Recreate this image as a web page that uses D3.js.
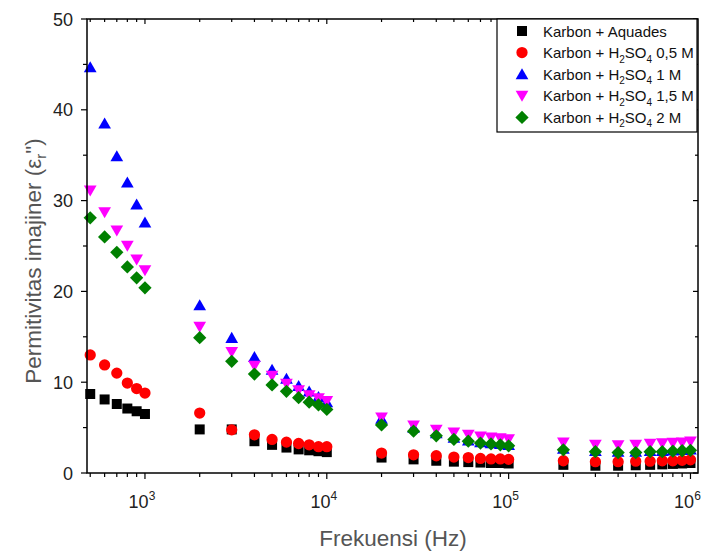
<!DOCTYPE html>
<html>
<head>
<meta charset="utf-8">
<script src="https://cdn.jsdelivr.net/npm/d3@7"></script>
<style>
  body { margin: 0; background: #fff; }
  text { font-family: "Liberation Sans", Arial, sans-serif; }
</style>
</head>
<body>
<div id="chart"></div>
<script>
// frequencies (Hz)
const freq = [500, 600, 700, 800, 900, 1000,
  2000, 3000, 4000, 5000, 6000, 7000, 8000, 9000, 10000,
  20000, 30000, 40000, 50000, 60000, 70000, 80000, 90000, 100000,
  200000, 300000, 400000, 500000, 600000, 700000, 800000, 900000, 1000000];

const aquades = [8.7, 8.1, 7.6, 7.1, 6.8, 6.5,
  4.8, 4.8, 3.5, 3.1, 2.8, 2.6, 2.5, 2.4, 2.3,
  1.7, 1.5, 1.35, 1.25, 1.2, 1.15, 1.1, 1.1, 1.05,
  0.9, 0.8, 0.8, 0.85, 0.9, 0.95, 1.0, 1.05, 1.1];
const h2so4_05 = [13.0, 11.9, 11.0, 9.9, 9.3, 8.8,
  6.6, 4.75, 4.2, 3.7, 3.4, 3.25, 3.1, 2.9, 2.9,
  2.2, 2.0, 1.9, 1.75, 1.7, 1.6, 1.55, 1.55, 1.5,
  1.35, 1.25, 1.25, 1.3, 1.3, 1.35, 1.35, 1.4, 1.45];
const h2so4_1 = [44.7, 38.5, 34.9, 32.0, 29.6, 27.6,
  18.5, 14.9, 12.8, 11.4, 10.4, 9.6, 9.0, 8.4, 7.8,
  6.0, 5.0, 4.4, 3.9, 3.6, 3.4, 3.3, 3.2, 3.1,
  2.7, 2.45, 2.35, 2.35, 2.45, 2.45, 2.5, 2.55, 2.6];
const h2so4_15 = [31.1, 28.7, 26.7, 25.0, 23.5, 22.3,
  16.1, 13.3, 11.8, 10.7, 9.8, 9.1, 8.55, 8.2, 7.9,
  6.1, 5.2, 4.75, 4.45, 4.2, 4.0, 3.9, 3.8, 3.7,
  3.35, 3.1, 3.05, 3.1, 3.2, 3.25, 3.3, 3.35, 3.45];
const h2so4_2 = [28.1, 26.0, 24.3, 22.7, 21.5, 20.4,
  14.9, 12.3, 10.9, 9.7, 9.0, 8.3, 7.8, 7.5, 7.0,
  5.3, 4.6, 4.1, 3.7, 3.5, 3.3, 3.2, 3.1, 3.0,
  2.55, 2.35, 2.25, 2.25, 2.35, 2.35, 2.4, 2.45, 2.5];

const yTicks = [0, 10, 20, 30, 40, 50];
const xTicks = [1e3, 1e4, 1e5, 1e6];

const series = [
  {name: ['Karbon + Aquades'], values: aquades, color: '#000000', shape: 'square'},
  {name: ['Karbon + H', '2', 'SO', '4', ' 0,5 M'], values: h2so4_05, color: '#ff0000', shape: 'circle'},
  {name: ['Karbon + H', '2', 'SO', '4', ' 1 M'], values: h2so4_1, color: '#0000ff', shape: 'up'},
  {name: ['Karbon + H', '2', 'SO', '4', ' 1,5 M'], values: h2so4_15, color: '#ff00ff', shape: 'down'},
  {name: ['Karbon + H', '2', 'SO', '4', ' 2 M'], values: h2so4_2, color: '#008000', shape: 'diamond'}
];

const W = 707, H = 551;
const L = 87, R = 698, T = 19, B = 473;

const svg = d3.select('#chart').append('svg')
  .attr('width', W).attr('height', H);

const x = d3.scaleLog().domain([480, 1.1e6]).range([L, R]);
const y = d3.scaleLinear().domain([0, 50]).range([B, T]);

function symbolPath(shape) {
  if (shape === 'square') return d3.symbol(d3.symbolSquare, 100)();
  if (shape === 'circle') return d3.symbol(d3.symbolCircle, 100)();
  if (shape === 'diamond') return d3.symbol(d3.symbolSquare, 88)();
  return d3.symbol(d3.symbolTriangle, 70)();
}
function symbolTransform(shape, px, py) {
  if (shape === 'up') return `translate(${px},${py + 1.5})`;
  if (shape === 'down') return `translate(${px},${py - 1.5}) rotate(180)`;
  if (shape === 'diamond') return `translate(${px},${py}) rotate(45)`;
  return `translate(${px},${py})`;
}

// points
series.forEach(s => {
  svg.append('g').selectAll('path')
    .data(freq.map((f, i) => ({f, v: s.values[i]})))
    .join('path')
    .attr('d', symbolPath(s.shape))
    .attr('transform', d => symbolTransform(s.shape, x(d.f), y(d.v)))
    .attr('fill', s.color);
});

// frame
const axisColor = '#000';
svg.append('rect')
  .attr('x', L).attr('y', T).attr('width', R - L).attr('height', B - T)
  .attr('fill', 'none').attr('stroke', axisColor).attr('stroke-width', 1.5);

// x ticks
const xAll = x.ticks().filter(t => t >= 480 && t <= 1.1e6);
xAll.forEach(t => {
  const major = xTicks.includes(t);
  const len = major ? 6 : 4;
  svg.append('line').attr('x1', x(t)).attr('x2', x(t))
    .attr('y1', B).attr('y2', B + len).attr('stroke', axisColor).attr('stroke-width', 1.2);
  svg.append('line').attr('x1', x(t)).attr('x2', x(t))
    .attr('y1', T).attr('y2', T + len - 1).attr('stroke', axisColor).attr('stroke-width', 1.2);
});
xTicks.forEach(t => {
  const txt = svg.append('text')
    .attr('x', x(t) - 3).attr('y', 508)
    .attr('text-anchor', 'middle')
    .attr('font-size', 18).attr('fill', '#222');
  txt.append('tspan').text('10');
  txt.append('tspan').attr('font-size', 12).attr('dy', -8)
    .text(Math.round(Math.log10(t)));
});

// y ticks
d3.range(0, 51, 5).forEach(v => {
  const major = v % 10 === 0;
  const len = major ? 6 : 4;
  svg.append('line').attr('x1', L - len).attr('x2', L)
    .attr('y1', y(v)).attr('y2', y(v)).attr('stroke', axisColor).attr('stroke-width', 1.2);
  svg.append('line').attr('x1', R - len + 1).attr('x2', R)
    .attr('y1', y(v)).attr('y2', y(v)).attr('stroke', axisColor).attr('stroke-width', 1.2);
});
yTicks.forEach(v => {
  svg.append('text')
    .attr('x', 73).attr('y', y(v) + 6.5)
    .attr('text-anchor', 'end')
    .attr('font-size', 18).attr('fill', '#222')
    .text(v);
});

// axis titles
svg.append('text')
  .attr('x', 393).attr('y', 546)
  .attr('text-anchor', 'middle')
  .attr('font-size', 22.5).attr('fill', '#555')
  .text('Frekuensi (Hz)');

const yt = svg.append('text')
  .attr('transform', `translate(41,261) rotate(-90)`)
  .attr('text-anchor', 'middle')
  .attr('font-size', 22.5).attr('fill', '#555');
yt.append('tspan').text('Permitivitas imajiner (ε');
yt.append('tspan').attr('font-size', 15).attr('dy', 5).text('r');
yt.append('tspan').attr('dy', -5).text('")');

// legend
const lg = svg.append('g');
lg.append('rect')
  .attr('x', 497).attr('y', T).attr('width', 200).attr('height', 113)
  .attr('fill', '#fff').attr('stroke', '#000').attr('stroke-width', 1.2);

series.forEach((s, i) => {
  const ly = 31 + i * 21.6;
  lg.append('path')
    .attr('d', symbolPath(s.shape))
    .attr('transform', symbolTransform(s.shape, 522, ly))
    .attr('fill', s.color);
  const t = lg.append('text')
    .attr('x', 543).attr('y', ly + 5.5)
    .attr('font-size', 15).attr('fill', '#111');
  s.name.forEach((part, j) => {
    const sp = t.append('tspan').text(part);
    if (j === 1 || j === 3) sp.attr('font-size', 10).attr('dy', 4.5);
    else if (j === 2 || j === 4) sp.attr('dy', -4.5);
  });
});
</script>
</body>
</html>
